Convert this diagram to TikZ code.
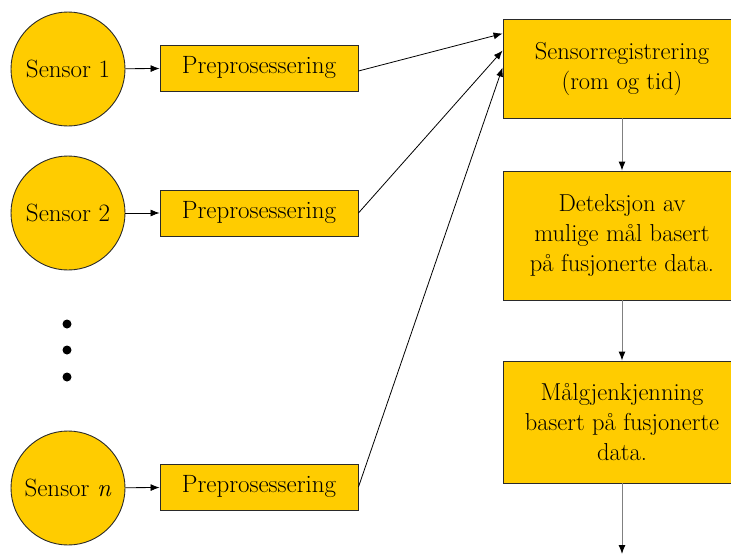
\documentclass[tikz,border=0pt]{standalone}
\usepackage{fontspec}
\usetikzlibrary{arrows.meta}
\definecolor{gold}{HTML}{FFCC00}
\definecolor{edge}{HTML}{2A2A2A}
\tikzset{
  sensor/.style={circle, draw=edge, line width=0.9pt, fill=gold, minimum size=114pt, inner sep=0pt,
    font=\fontsize{25}{29}\selectfont},
  prebox/.style={rectangle, draw=edge, line width=0.9pt, fill=gold, minimum width=198pt, minimum height=46pt,
    inner sep=0pt, font=\fontsize{25}{29}\selectfont},
  stagebox/.style={rectangle, draw=edge, line width=0.9pt, fill=gold, minimum width=238pt, inner sep=0pt,
    align=center, font=\fontsize{24.5}{30}\selectfont},
  flow/.style={line width=0.8pt, -{Latex[length=9pt,width=7pt]}},
  downflow/.style={line width=1pt, draw=black!50, -{Latex[length=9pt,width=7pt,fill=black,color=black]}},
  dot/.style={circle, fill=black, minimum size=9pt, inner sep=0pt}
}
\begin{document}
\begin{tikzpicture}[x=1pt,y=-1pt]
\useasboundingbox (0,0) rectangle (731,554);
\begin{scope}
\clip (0,0) rectangle (731,554);

% sensors and their preprocessing blocks
\node[sensor] (s1) at (68,69) {Sensor 1};
\node[prebox] (p1) at (259,68) {Preprosessering};
\node[sensor] (s2) at (68,213) {Sensor 2};
\node[prebox] (p2) at (259,213) {Preprosessering};
\node[dot] (d1) at (67,324) {};
\node[dot] (d2) at (67,350) {};
\node[dot] (d3) at (67,377) {};
\node[sensor] (sn) at (68,488) {Sensor \textit{n}};
\node[prebox] (pn) at (259,487) {Preprosessering};

% processing chain on the right
\node[stagebox, minimum height=99pt] (r1) at (622,68.5) {Sensorregistrering\\(rom og tid)};
\node[stagebox, minimum height=129pt] (r2) at (622,235.5) {Deteksjon av\\mulige mål basert\\på fusjonerte data.};
\node[stagebox, minimum height=122pt] (r3) at (622,422) {Målgjenkjenning\\basert på fusjonerte\\data.};
\coordinate (out) at (622,554);

\draw[flow] (s1) -- (p1);
\draw[flow] (s2) -- (p2);
\draw[flow] (sn) -- (pn);

\draw[flow] ([yshift=-3pt]p1.east) -- ([yshift=-15pt]r1.north west);
\draw[flow] (p2.east) -- ([yshift=-32pt]r1.north west);
\draw[flow] (pn.east) -- ([yshift=-49pt]r1.north west);

\draw[downflow] (r1) -- (r2);
\draw[downflow] (r2) -- (r3);
\draw[downflow] (r3) -- (out);
\end{scope}
\end{tikzpicture}
\end{document}
